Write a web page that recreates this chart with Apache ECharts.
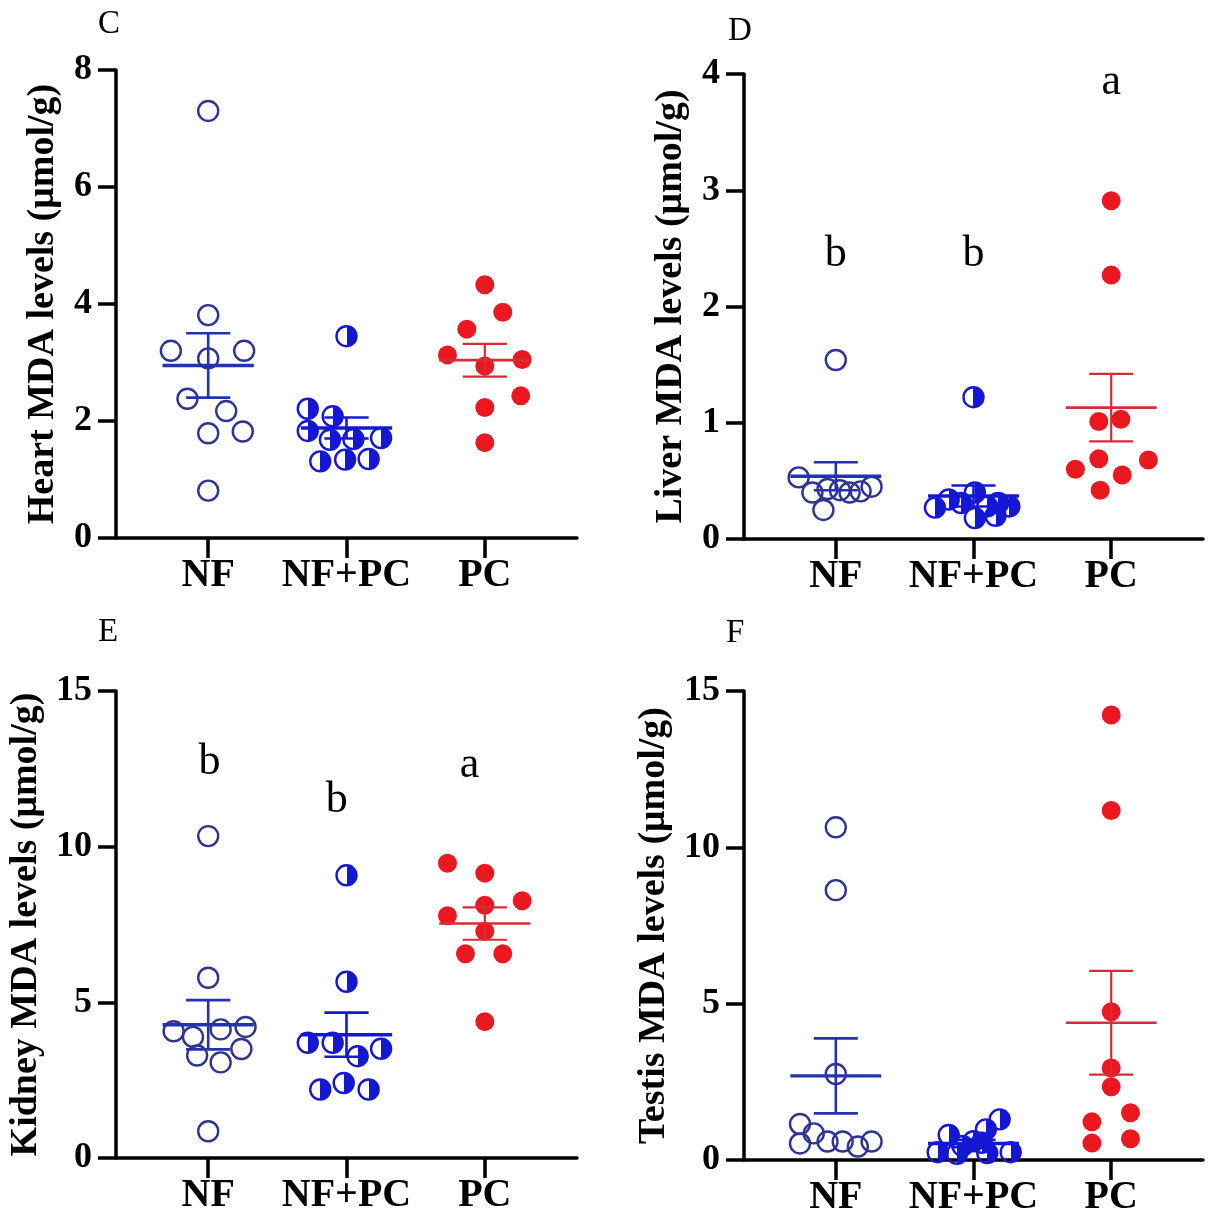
<!DOCTYPE html>
<html>
<head>
<meta charset="utf-8">
<script src="https://cdn.jsdelivr.net/npm/echarts@6/dist/echarts.min.js"></script>
<style>
html,body{margin:0;padding:0;background:#fff;}
#chart{width:1217px;height:1210px;}
</style>
</head>
<body>
<div id="chart"></div>
<script>
// ---------- data ----------
const categories = ['NF', 'NF+PC', 'PC'];

// C: Heart
const heartNF = [7.30, 3.81, 3.20, 3.20, 3.07, 2.38, 2.17, 1.79, 1.82, 0.81];
const heartNFx = [0, 0, -0.27, 0.26, 0, -0.15, 0.13, 0, 0.25, 0];
const heartNFPC = [3.45, 2.21, 2.08, 1.83, 1.68, 1.69, 1.71, 1.31, 1.34, 1.35];
const heartNFPCx = [0, -0.28, -0.10, -0.28, -0.12, 0.05, 0.25, -0.19, -0.01, 0.16];
const heartPC = [4.33, 3.86, 3.57, 3.13, 3.05, 2.94, 2.43, 2.23, 1.63];
const heartPCx = [0, 0.13, -0.13, -0.27, 0.27, 0, 0.26, 0, 0];
const heartMean = [2.95, 1.88, 3.04];
const heartSem = [0.55, 0.18, 0.28];

// D: Liver
const liverNF = [1.54, 0.53, 0.40, 0.43, 0.42, 0.40, 0.41, 0.45, 0.25];
const liverNFx = [0, -0.27, -0.17, -0.06, 0.03, 0.10, 0.18, 0.26, -0.09];
const liverNFPC = [1.22, 0.27, 0.34, 0.31, 0.40, 0.28, 0.31, 0.28, 0.18, 0.20];
const liverNFPCx = [0, -0.28, -0.18, -0.09, 0.01, 0.10, 0.18, 0.26, 0.01, 0.16];
const liverPC = [2.91, 2.27, 1.01, 1.03, 0.69, 0.68, 0.60, 0.55, 0.42];
const liverPCx = [0, 0, -0.09, 0.07, -0.09, 0.27, -0.26, 0.08, -0.08];
const liverMean = [0.54, 0.37, 1.13];
const liverSem = [0.12, 0.09, 0.29];
const liverLetters = ['b', 'b', 'a'];
const liverLetterY = [2.45, 2.45, 3.93];
const liverLetterX = [0, 0, 0];

// E: Kidney
const kidneyNF = [10.34, 5.79, 4.07, 3.89, 4.13, 4.21, 3.29, 3.07, 3.50, 0.86];
const kidneyNFx = [0, 0, -0.25, -0.11, 0.09, 0.27, -0.08, 0.09, 0.24, 0];
const kidneyNFPC = [9.08, 5.66, 3.70, 3.70, 3.27, 3.51, 2.20, 2.41, 2.20];
const kidneyNFPCx = [0, 0, -0.28, -0.10, 0.08, 0.25, -0.19, -0.02, 0.16];
const kidneyPC = [9.47, 9.15, 8.26, 7.78, 8.12, 7.28, 6.56, 6.56, 4.38];
const kidneyPCx = [-0.27, 0, 0.27, -0.27, 0, 0, -0.14, 0.13, 0];
const kidneyMean = [4.28, 3.96, 7.53];
const kidneySem = [0.79, 0.71, 0.52];
const kidneyLetters = ['b', 'b', 'a'];
const kidneyLetterY = [12.7, 11.47, 12.6];
const kidneyLetterX = [0.01, -0.07, -0.11];

// F: Testis
const testisNF = [10.64, 8.63, 2.75, 1.15, 0.53, 0.85, 0.59, 0.59, 0.43, 0.59];
const testisNFx = [0, 0, 0, -0.26, -0.26, -0.16, -0.06, 0.05, 0.16, 0.26];
const testisNFPC = [1.30, 0.98, 0.80, 0.60, 0.55, 0.45, 0.25, 0.22, 0.25, 0.20];
const testisNFPCx = [0.19, 0.09, -0.18, 0, 0.06, -0.08, -0.26, 0.10, 0.27, -0.12];
const testisPC = [14.23, 11.18, 4.74, 2.94, 2.34, 1.51, 1.22, 0.68, 0.54];
const testisPCx = [0, 0, 0, 0, 0, 0.14, -0.14, 0.14, -0.14];
const testisMean = [2.69, 0.53, 4.39];
const testisSem = [1.20, 0.12, 1.66];

// axis ticks
const heartTicks = [0, 2, 4, 6, 8];
const liverTicks = [0, 1, 2, 3, 4];
const kidneyTicks = [0, 5, 10, 15];
const testisTicks = [0, 5, 10, 15];

// ---------- styling / layout ----------
const FONT = "'Liberation Serif', 'Times New Roman', serif";
const C_NF = '#2e3494';
const C_NFPC = '#1418d4';
const C_PC = '#ec1820';
const lineColors = ['#2333b0', '#1418d4', '#d42e34'];
const meanWidths = [3.4, 3.4, 2.6];
const barWidths = [2.6, 2.6, 2.2];

const panels = [
  {letter: 'C', name: 'Heart MDA levels (μmol/g)', grid: {left: 116, top: 70, width: 461, height: 468}, ticks: heartTicks, gap: 54,
   nf: heartNF, nfx: heartNFx, nfpc: heartNFPC, nfpcx: heartNFPCx, pc: heartPC, pcx: heartPCx, mean: heartMean, sem: heartSem,
   letters: null, lpos: [110, 25]},
  {letter: 'D', name: 'Liver MDA levels (μmol/g)', grid: {left: 744, top: 74, width: 459, height: 465}, ticks: liverTicks, gap: 54,
   nf: liverNF, nfx: liverNFx, nfpc: liverNFPC, nfpcx: liverNFPCx, pc: liverPC, pcx: liverPCx, mean: liverMean, sem: liverSem,
   letters: liverLetters, letterY: liverLetterY, letterX: liverLetterX, lpos: [740, 32]},
  {letter: 'E', name: 'Kidney MDA levels (μmol/g)', grid: {left: 116, top: 691, width: 461, height: 467}, ticks: kidneyTicks, gap: 71,
   nf: kidneyNF, nfx: kidneyNFx, nfpc: kidneyNFPC, nfpcx: kidneyNFPCx, pc: kidneyPC, pcx: kidneyPCx, mean: kidneyMean, sem: kidneySem,
   letters: kidneyLetters, letterY: kidneyLetterY, letterX: kidneyLetterX, lpos: [110, 633]},
  {letter: 'F', name: 'Testis MDA levels (μmol/g)', grid: {left: 744, top: 691, width: 459, height: 469}, ticks: testisTicks, gap: 71,
   nf: testisNF, nfx: testisNFx, nfpc: testisNFPC, nfpcx: testisNFPCx, pc: testisPC, pcx: testisPCx, mean: testisMean, sem: testisSem,
   letters: null, lpos: [738, 634]}
];

const halfFill = {
  type: 'linear', x: 0, y: 0, x2: 1, y2: 0,
  colorStops: [
    {offset: 0, color: 'rgba(255,255,255,0)'},
    {offset: 0.5, color: 'rgba(255,255,255,0)'},
    {offset: 0.5, color: C_NFPC},
    {offset: 1, color: C_NFPC}
  ]
};

const grids = [], xAxes = [], yAxes = [], series = [], graphics = [];

panels.forEach((p, i) => {
  grids.push(Object.assign({containLabel: false, outerBoundsMode: 'none'}, p.grid));
  xAxes.push({
    type: 'value', gridIndex: i, min: 1 / 3, max: 11 / 3,
    axisLine: {show: true, lineStyle: {color: '#000', width: 3.5}},
    axisTick: {show: true, customValues: [1, 2, 3], length: 20, lineStyle: {color: '#000', width: 3.5}},
    axisLabel: {show: true, customValues: [1, 2, 3], formatter: v => categories[Math.round(v) - 1],
      color: '#000', fontFamily: FONT, fontWeight: 'bold', fontSize: 40, margin: 18},
    splitLine: {show: false}
  });
  const t = p.ticks;
  yAxes.push({
    type: 'value', gridIndex: i, min: t[0], max: t[t.length - 1], interval: t[1] - t[0],
    name: p.name, nameLocation: 'middle', nameGap: p.gap,
    nameTextStyle: {color: '#000', fontFamily: FONT, fontWeight: 'bold', fontSize: 38},
    axisLine: {show: true, lineStyle: {color: '#000', width: 3.5}},
    axisTick: {show: true, length: 18, lineStyle: {color: '#000', width: 3.5}},
    axisLabel: {color: '#000', fontFamily: FONT, fontWeight: 'bold', fontSize: 36, margin: 24},
    splitLine: {show: false}
  });

  const pts = (vals, offs, g) => vals.map((v, k) => [g + offs[k], v]);
  series.push({
    type: 'scatter', xAxisIndex: i, yAxisIndex: i, z: 2, silent: true,
    symbol: 'circle', symbolSize: 20,
    itemStyle: {color: 'rgba(255,255,255,0)', borderColor: C_NF, borderWidth: 2.4, opacity: 1},
    data: pts(p.nf, p.nfx, 1)
  });
  series.push({
    type: 'scatter', xAxisIndex: i, yAxisIndex: i, z: 2, silent: true,
    symbol: 'circle', symbolSize: 20,
    itemStyle: {color: halfFill, borderColor: C_NFPC, borderWidth: 2.4, opacity: 1},
    data: pts(p.nfpc, p.nfpcx, 2)
  });
  series.push({
    type: 'scatter', xAxisIndex: i, yAxisIndex: i, z: 2, silent: true,
    symbol: 'circle', symbolSize: 19,
    itemStyle: {color: C_PC, opacity: 1},
    data: pts(p.pc, p.pcx, 3)
  });
  series.push({
    type: 'custom', xAxisIndex: i, yAxisIndex: i, z: 5, silent: true,
    encode: {x: 0, y: 1},
    data: p.mean.map((m, k) => [k + 1, m, p.sem[k]]),
    renderItem: function (params, api) {
      const g = api.value(0), m = api.value(1), s = api.value(2);
      const c = api.coord([g, m]);
      const l = api.coord([g - 0.33, m])[0], r = api.coord([g + 0.33, m])[0];
      const cl = api.coord([g - 0.16, m])[0], cr = api.coord([g + 0.16, m])[0];
      const top = api.coord([g, m + s])[1], bot = api.coord([g, m - s])[1];
      const col = lineColors[g - 1];
      const bw = barWidths[g - 1];
      return {
        type: 'group', children: [
          {type: 'line', shape: {x1: c[0], y1: top, x2: c[0], y2: bot}, style: {stroke: col, lineWidth: bw}},
          {type: 'line', shape: {x1: cl, y1: top, x2: cr, y2: top}, style: {stroke: col, lineWidth: bw}},
          {type: 'line', shape: {x1: cl, y1: bot, x2: cr, y2: bot}, style: {stroke: col, lineWidth: bw}},
          {type: 'line', shape: {x1: l, y1: c[1], x2: r, y2: c[1]}, style: {stroke: col, lineWidth: meanWidths[g - 1]}}
        ]
      };
    }
  });
  if (p.letters) {
    series.push({
      type: 'scatter', xAxisIndex: i, yAxisIndex: i, z: 6, silent: true,
      symbol: 'circle', symbolSize: 0,
      itemStyle: {opacity: 1},
      label: {show: true, position: 'inside', formatter: '{b}', color: '#000', opacity: 1,
        fontFamily: FONT, fontSize: 44, fontWeight: 'normal'},
      data: p.letters.map((s, k) => ({name: s, value: [k + 1 + p.letterX[k], p.letterY[k]]}))
    });
  }
  graphics.push({
    type: 'text', left: p.lpos[0] - 12, top: p.lpos[1] - 17,
    style: {text: p.letter, font: 'normal 33px ' + FONT, fill: '#000'}
  });
});

const chart = echarts.init(document.getElementById('chart'), null, {renderer: 'canvas'});
chart.setOption({
  backgroundColor: '#fff',
  animation: false,
  grid: grids,
  xAxis: xAxes,
  yAxis: yAxes,
  series: series,
  graphic: graphics
});
</script>
</body>
</html>
